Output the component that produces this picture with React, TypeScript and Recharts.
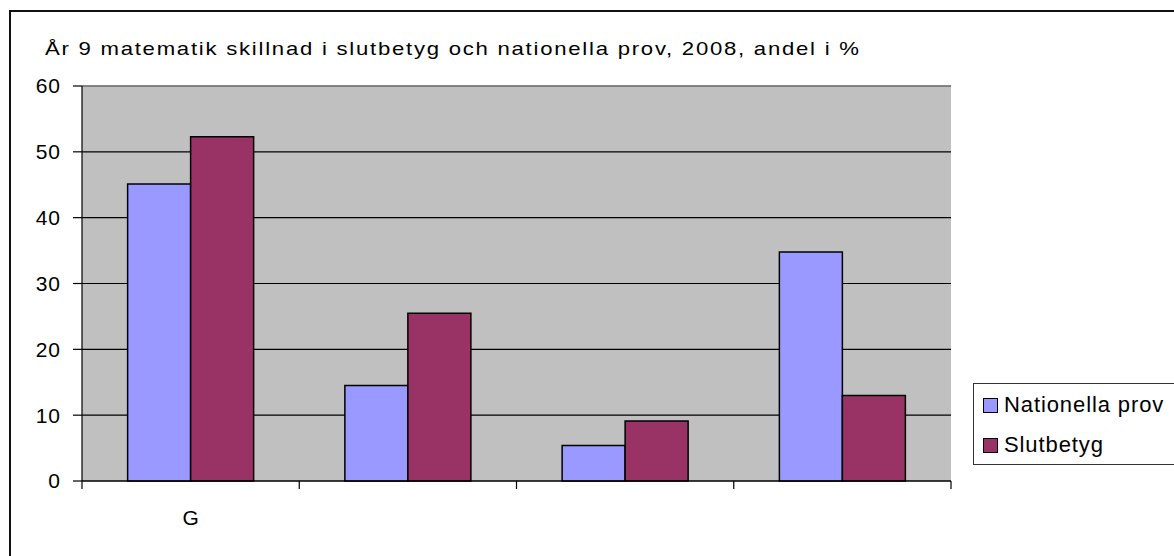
import { BarChart, Bar, XAxis, YAxis, CartesianGrid, Legend, ReferenceLine } from 'recharts';

const categories = ['G', '', '', ''];
const nationellaProv = [45.1, 14.5, 5.4, 34.8];
const slutbetyg = [52.3, 25.5, 9.1, 13.0];
const yTicks = [0, 10, 20, 30, 40, 50, 60];

const data = categories.map((cat, i) => ({
  cat,
  nationella: nationellaProv[i],
  slutbetyg: slutbetyg[i]
}));

const FONT = '"Liberation Sans", Arial, sans-serif';

function CategoryTick(props: any) {
  const { x, y, payload, index, visibleTicksCount } = props;
  const half = payload.offset || 0;
  const start = x - half;
  const end = x + half;
  const isLast = index === visibleTicksCount - 1;
  return (
    <g>
      <line x1={start} y1={y - 8} x2={start} y2={y} stroke="#000" strokeWidth={1.2} />
      {isLast && <line x1={end} y1={y - 8} x2={end} y2={y} stroke="#000" strokeWidth={1.2} />}
      <text x={x} y={y + 36} textAnchor="middle" fontSize={21} fontFamily={FONT} fill="#000">
        {payload.value}
      </text>
    </g>
  );
}

function LegendBox() {
  const items = [
    { name: 'Nationella prov', color: '#9999FF' },
    { name: 'Slutbetyg', color: '#993366' }
  ];
  return (
    <div
      style={{
        border: '1.5px solid #333',
        width: 240,
        height: 82,
        boxSizing: 'border-box',
        padding: '1px 0 0 9px',
        background: '#fff'
      }}
    >
      {items.map((it) => (
        <div key={it.name} style={{ display: 'flex', alignItems: 'center', height: 40 }}>
          <span
            style={{
              width: 13,
              height: 13,
              background: it.color,
              border: '1.5px solid #000',
              marginRight: 6,
              display: 'inline-block'
            }}
          />
          <span style={{ fontFamily: FONT, fontSize: 22, letterSpacing: 0.9, color: '#000' }}>{it.name}</span>
        </div>
      ))}
    </div>
  );
}

export default function App() {
  return (
    <div style={{ position: 'fixed', left: 0, top: 0, width: 1174, height: 556, overflow: 'hidden', background: '#fff' }}>
      <div
        style={{
          position: 'absolute',
          left: 9,
          top: 10,
          width: 1300,
          height: 700,
          border: '2.5px solid #111'
        }}
      />
      <div
        style={{
          position: 'absolute',
          left: 45,
          top: 38,
          fontFamily: FONT,
          fontSize: 19,
          letterSpacing: 1.5,
          color: '#000',
          whiteSpace: 'nowrap',
          transform: 'scaleX(1.165)',
          transformOrigin: 'left center'
        }}
      >
        År 9 matematik skillnad i slutbetyg och nationella prov, 2008, andel i %
      </div>
      <div style={{ position: 'absolute', left: 0, top: 0 }}>
        <BarChart
          width={1174}
          height={556}
          data={data}
          margin={{ top: 86, right: 223, bottom: 45, left: 22 }}
          barCategoryGap="21%"
          barGap={0}
        >
          <CartesianGrid vertical={false} stroke="#000" strokeWidth={1.2} fill="#C0C0C0" fillOpacity={1} />
          <ReferenceLine y={60} stroke="#8a8a8a" strokeWidth={1.5} />
          <XAxis
            dataKey="cat"
            axisLine={{ stroke: '#000', strokeWidth: 1.2 }}
            tickLine={false}
            tick={<CategoryTick />}
            height={30}
            interval={0}
          />
          <YAxis
            domain={[0, 60]}
            ticks={yTicks}
            width={60}
            tickSize={9}
            tickMargin={12}
            axisLine={{ stroke: '#000', strokeWidth: 1.2 }}
            tickLine={{ stroke: '#000', strokeWidth: 1.2 }}
            tick={{ fontSize: 21, fontFamily: FONT, fill: '#000', letterSpacing: 1 }}
          />
          <Legend
            layout="vertical"
            align="center"
            verticalAlign="middle"
            wrapperStyle={{ left: 973, top: 383, width: 240, height: 82 }}
            content={<LegendBox />}
          />
          <Bar dataKey="nationella" name="Nationella prov" fill="#9999FF" stroke="#000" strokeWidth={1.5} isAnimationActive={false} />
          <Bar dataKey="slutbetyg" name="Slutbetyg" fill="#993366" stroke="#000" strokeWidth={1.5} isAnimationActive={false} />
        </BarChart>
      </div>
    </div>
  );
}
